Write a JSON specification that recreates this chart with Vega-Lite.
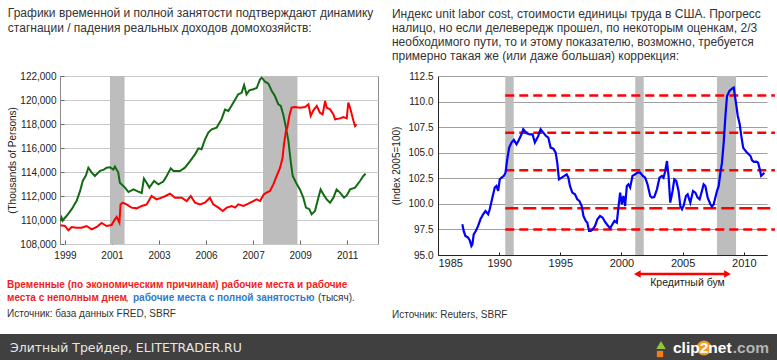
{
  "$schema": "https://vega.github.io/schema/vega-lite/v6.json",
  "padding": {"top": 6, "left": 0, "right": 0, "bottom": 0},
  "background": "#ffffff",
  "spacing": 14,
  "config": {
    "view": {"stroke": null},
    "font": "Liberation Sans",
    "axis": {"labelFont": "Liberation Sans", "titleFont": "Liberation Sans"},
    "title": {"font": "Liberation Sans"}
  },
  "datasets": {
    "employment": [
      {"year": 1998.97, "value": 109900, "series": "full"}, {"year": 1999.02, "value": 110200, "series": "full"}, {"year": 1999.07, "value": 109950, "series": "full"}, {"year": 1999.15, "value": 110150, "series": "full"}, {"year": 1999.24, "value": 110330, "series": "full"}, {"year": 1999.47, "value": 110900, "series": "full"}, {"year": 1999.69, "value": 111600, "series": "full"}, {"year": 1999.84, "value": 112400, "series": "full"}, {"year": 1999.96, "value": 113250, "series": "full"}, {"year": 2000.10, "value": 113700, "series": "full"}, {"year": 2000.21, "value": 114360, "series": "full"}, {"year": 2000.36, "value": 113950, "series": "full"}, {"year": 2000.50, "value": 113670, "series": "full"}, {"year": 2000.73, "value": 114100, "series": "full"}, {"year": 2000.90, "value": 114200, "series": "full"}, {"year": 2001.02, "value": 114360, "series": "full"}, {"year": 2001.17, "value": 114400, "series": "full"}, {"year": 2001.32, "value": 114200, "series": "full"}, {"year": 2001.39, "value": 114450, "series": "full"}, {"year": 2001.54, "value": 113950, "series": "full"}, {"year": 2001.61, "value": 113100, "series": "full"}, {"year": 2001.84, "value": 112700, "series": "full"}, {"year": 2001.99, "value": 112330, "series": "full"}, {"year": 2002.21, "value": 112550, "series": "full"}, {"year": 2002.43, "value": 112360, "series": "full"}, {"year": 2002.58, "value": 112250, "series": "full"}, {"year": 2002.68, "value": 113450, "series": "full"}, {"year": 2002.80, "value": 113100, "series": "full"}, {"year": 2002.92, "value": 112700, "series": "full"}, {"year": 2003.13, "value": 113250, "series": "full"}, {"year": 2003.32, "value": 112970, "series": "full"}, {"year": 2003.54, "value": 113200, "series": "full"}, {"year": 2003.69, "value": 113670, "series": "full"}, {"year": 2003.87, "value": 114300, "series": "full"}, {"year": 2003.99, "value": 114080, "series": "full"}, {"year": 2004.28, "value": 114080, "series": "full"}, {"year": 2004.50, "value": 114360, "series": "full"}, {"year": 2004.73, "value": 114900, "series": "full"}, {"year": 2004.95, "value": 115470, "series": "full"}, {"year": 2005.10, "value": 115970, "series": "full"}, {"year": 2005.24, "value": 115900, "series": "full"}, {"year": 2005.39, "value": 116700, "series": "full"}, {"year": 2005.54, "value": 117280, "series": "full"}, {"year": 2005.69, "value": 117550, "series": "full"}, {"year": 2005.91, "value": 117700, "series": "full"}, {"year": 2006.13, "value": 118400, "series": "full"}, {"year": 2006.28, "value": 119200, "series": "full"}, {"year": 2006.43, "value": 119080, "series": "full"}, {"year": 2006.65, "value": 119780, "series": "full"}, {"year": 2006.87, "value": 120470, "series": "full"}, {"year": 2007.02, "value": 120600, "series": "full"}, {"year": 2007.13, "value": 121250, "series": "full"}, {"year": 2007.24, "value": 120470, "series": "full"}, {"year": 2007.36, "value": 120800, "series": "full"}, {"year": 2007.54, "value": 120900, "series": "full"}, {"year": 2007.69, "value": 121000, "series": "full"}, {"year": 2007.84, "value": 121720, "series": "full"}, {"year": 2007.91, "value": 121860, "series": "full"}, {"year": 2008.06, "value": 121530, "series": "full"}, {"year": 2008.21, "value": 121360, "series": "full"}, {"year": 2008.36, "value": 120750, "series": "full"}, {"year": 2008.50, "value": 120330, "series": "full"}, {"year": 2008.65, "value": 119640, "series": "full"}, {"year": 2008.76, "value": 119500, "series": "full"}, {"year": 2008.87, "value": 118800, "series": "full"}, {"year": 2008.99, "value": 117700, "series": "full"}, {"year": 2009.10, "value": 116580, "series": "full"}, {"year": 2009.20, "value": 114900, "series": "full"}, {"year": 2009.29, "value": 113670, "series": "full"}, {"year": 2009.44, "value": 113100, "series": "full"}, {"year": 2009.61, "value": 112550, "series": "full"}, {"year": 2009.76, "value": 111860, "series": "full"}, {"year": 2009.88, "value": 111030, "series": "full"}, {"year": 2010.03, "value": 110900, "series": "full"}, {"year": 2010.13, "value": 110470, "series": "full"}, {"year": 2010.28, "value": 110750, "series": "full"}, {"year": 2010.43, "value": 111860, "series": "full"}, {"year": 2010.53, "value": 112550, "series": "full"}, {"year": 2010.65, "value": 112140, "series": "full"}, {"year": 2010.80, "value": 111720, "series": "full"}, {"year": 2010.95, "value": 111440, "series": "full"}, {"year": 2011.10, "value": 111860, "series": "full"}, {"year": 2011.24, "value": 112550, "series": "full"}, {"year": 2011.39, "value": 112280, "series": "full"}, {"year": 2011.57, "value": 111860, "series": "full"}, {"year": 2011.69, "value": 112050, "series": "full"}, {"year": 2011.84, "value": 112550, "series": "full"}, {"year": 2012.06, "value": 112700, "series": "full"}, {"year": 2012.28, "value": 113250, "series": "full"}, {"year": 2012.43, "value": 113670, "series": "full"}, {"year": 2012.53, "value": 113860, "series": "full"},
      {"year": 1998.97, "value": 109560, "series": "part"}, {"year": 1999.17, "value": 109500, "series": "part"}, {"year": 1999.32, "value": 109140, "series": "part"}, {"year": 1999.47, "value": 109420, "series": "part"}, {"year": 1999.69, "value": 109360, "series": "part"}, {"year": 1999.91, "value": 109360, "series": "part"}, {"year": 2000.13, "value": 109500, "series": "part"}, {"year": 2000.36, "value": 109220, "series": "part"}, {"year": 2000.58, "value": 109420, "series": "part"}, {"year": 2000.80, "value": 109750, "series": "part"}, {"year": 2001.02, "value": 109500, "series": "part"}, {"year": 2001.24, "value": 109580, "series": "part"}, {"year": 2001.39, "value": 110050, "series": "part"}, {"year": 2001.47, "value": 110250, "series": "part"}, {"year": 2001.59, "value": 109780, "series": "part"}, {"year": 2001.64, "value": 111300, "series": "part"}, {"year": 2001.73, "value": 111440, "series": "part"}, {"year": 2001.91, "value": 111300, "series": "part"}, {"year": 2002.13, "value": 111030, "series": "part"}, {"year": 2002.36, "value": 110970, "series": "part"}, {"year": 2002.58, "value": 111170, "series": "part"}, {"year": 2002.80, "value": 111300, "series": "part"}, {"year": 2003.02, "value": 112000, "series": "part"}, {"year": 2003.24, "value": 111720, "series": "part"}, {"year": 2003.47, "value": 111860, "series": "part"}, {"year": 2003.64, "value": 112000, "series": "part"}, {"year": 2003.84, "value": 112200, "series": "part"}, {"year": 2004.06, "value": 111860, "series": "part"}, {"year": 2004.36, "value": 111860, "series": "part"}, {"year": 2004.58, "value": 111580, "series": "part"}, {"year": 2004.76, "value": 112000, "series": "part"}, {"year": 2004.95, "value": 111440, "series": "part"}, {"year": 2005.17, "value": 111300, "series": "part"}, {"year": 2005.39, "value": 111440, "series": "part"}, {"year": 2005.61, "value": 111860, "series": "part"}, {"year": 2005.76, "value": 111300, "series": "part"}, {"year": 2005.99, "value": 111030, "series": "part"}, {"year": 2006.18, "value": 110750, "series": "part"}, {"year": 2006.36, "value": 111030, "series": "part"}, {"year": 2006.58, "value": 111170, "series": "part"}, {"year": 2006.73, "value": 111030, "series": "part"}, {"year": 2006.87, "value": 111300, "series": "part"}, {"year": 2007.10, "value": 111170, "series": "part"}, {"year": 2007.32, "value": 111360, "series": "part"}, {"year": 2007.54, "value": 111580, "series": "part"}, {"year": 2007.69, "value": 111720, "series": "part"}, {"year": 2007.84, "value": 111580, "series": "part"}, {"year": 2008.01, "value": 112140, "series": "part"}, {"year": 2008.13, "value": 112280, "series": "part"}, {"year": 2008.28, "value": 112420, "series": "part"}, {"year": 2008.43, "value": 112970, "series": "part"}, {"year": 2008.58, "value": 113670, "series": "part"}, {"year": 2008.73, "value": 114360, "series": "part"}, {"year": 2008.84, "value": 115190, "series": "part"}, {"year": 2008.90, "value": 116300, "series": "part"}, {"year": 2008.99, "value": 117420, "series": "part"}, {"year": 2009.05, "value": 117700, "series": "part"}, {"year": 2009.14, "value": 118670, "series": "part"}, {"year": 2009.24, "value": 119360, "series": "part"}, {"year": 2009.39, "value": 119420, "series": "part"}, {"year": 2009.61, "value": 119360, "series": "part"}, {"year": 2009.84, "value": 119420, "series": "part"}, {"year": 2009.99, "value": 119640, "series": "part"}, {"year": 2010.09, "value": 118670, "series": "part"}, {"year": 2010.21, "value": 119140, "series": "part"}, {"year": 2010.36, "value": 119500, "series": "part"}, {"year": 2010.50, "value": 118940, "series": "part"}, {"year": 2010.62, "value": 118800, "series": "part"}, {"year": 2010.73, "value": 119920, "series": "part"}, {"year": 2010.80, "value": 119360, "series": "part"}, {"year": 2010.95, "value": 119220, "series": "part"}, {"year": 2011.10, "value": 118800, "series": "part"}, {"year": 2011.17, "value": 118390, "series": "part"}, {"year": 2011.39, "value": 118470, "series": "part"}, {"year": 2011.54, "value": 118580, "series": "part"}, {"year": 2011.69, "value": 118470, "series": "part"}, {"year": 2011.76, "value": 119780, "series": "part"}, {"year": 2011.84, "value": 119360, "series": "part"}, {"year": 2011.99, "value": 118250, "series": "part"}, {"year": 2012.06, "value": 117830, "series": "part"}, {"year": 2012.13, "value": 117970, "series": "part"}
    ],
    "ulc": [
      {"year": 1986.99, "index": 98.00}, {"year": 1987.10, "index": 97.35}, {"year": 1987.24, "index": 96.86}, {"year": 1987.46, "index": 96.70}, {"year": 1987.60, "index": 96.43}, {"year": 1987.73, "index": 95.88}, {"year": 1987.81, "index": 96.04}, {"year": 1987.92, "index": 97.02}, {"year": 1988.09, "index": 97.35}, {"year": 1988.28, "index": 97.84}, {"year": 1988.47, "index": 98.49}, {"year": 1988.69, "index": 98.98}, {"year": 1988.88, "index": 99.30}, {"year": 1989.10, "index": 98.98}, {"year": 1989.23, "index": 99.47}, {"year": 1989.45, "index": 100.61}, {"year": 1989.64, "index": 101.59}, {"year": 1989.78, "index": 101.75}, {"year": 1989.92, "index": 101.26}, {"year": 1990.05, "index": 102.40}, {"year": 1990.19, "index": 102.56}, {"year": 1990.38, "index": 102.73}, {"year": 1990.52, "index": 103.05}, {"year": 1990.66, "index": 104.36}, {"year": 1990.82, "index": 105.50}, {"year": 1991.01, "index": 105.99}, {"year": 1991.20, "index": 106.25}, {"year": 1991.42, "index": 105.82}, {"year": 1991.61, "index": 106.25}, {"year": 1991.83, "index": 106.80}, {"year": 1991.97, "index": 107.29}, {"year": 1992.24, "index": 106.90}, {"year": 1992.51, "index": 106.80}, {"year": 1992.73, "index": 106.80}, {"year": 1992.92, "index": 105.99}, {"year": 1993.20, "index": 106.64}, {"year": 1993.39, "index": 107.29}, {"year": 1993.61, "index": 106.96}, {"year": 1993.83, "index": 106.64}, {"year": 1994.02, "index": 106.48}, {"year": 1994.21, "index": 105.50}, {"year": 1994.43, "index": 105.40}, {"year": 1994.62, "index": 105.01}, {"year": 1994.75, "index": 104.03}, {"year": 1994.89, "index": 102.40}, {"year": 1995.11, "index": 102.56}, {"year": 1995.33, "index": 102.73}, {"year": 1995.52, "index": 102.89}, {"year": 1995.66, "index": 102.56}, {"year": 1995.79, "index": 101.75}, {"year": 1995.98, "index": 101.10}, {"year": 1996.20, "index": 100.93}, {"year": 1996.39, "index": 100.44}, {"year": 1996.56, "index": 100.28}, {"year": 1996.75, "index": 99.79}, {"year": 1996.89, "index": 98.81}, {"year": 1997.08, "index": 98.33}, {"year": 1997.21, "index": 98.16}, {"year": 1997.35, "index": 97.35}, {"year": 1997.49, "index": 97.35}, {"year": 1997.65, "index": 97.51}, {"year": 1997.84, "index": 97.84}, {"year": 1998.03, "index": 98.49}, {"year": 1998.25, "index": 98.81}, {"year": 1998.47, "index": 98.65}, {"year": 1998.66, "index": 98.23}, {"year": 1998.85, "index": 97.93}, {"year": 1999.07, "index": 97.61}, {"year": 1999.26, "index": 98.00}, {"year": 1999.43, "index": 98.33}, {"year": 1999.62, "index": 98.16}, {"year": 1999.75, "index": 99.63}, {"year": 1999.89, "index": 101.10}, {"year": 2000.03, "index": 99.96}, {"year": 2000.16, "index": 100.77}, {"year": 2000.30, "index": 99.79}, {"year": 2000.44, "index": 101.75}, {"year": 2000.57, "index": 101.91}, {"year": 2000.71, "index": 101.59}, {"year": 2000.90, "index": 102.73}, {"year": 2001.12, "index": 102.89}, {"year": 2001.31, "index": 103.05}, {"year": 2001.53, "index": 103.05}, {"year": 2001.75, "index": 102.73}, {"year": 2001.94, "index": 102.56}, {"year": 2002.13, "index": 101.91}, {"year": 2002.35, "index": 100.77}, {"year": 2002.49, "index": 100.61}, {"year": 2002.68, "index": 100.67}, {"year": 2002.90, "index": 101.42}, {"year": 2003.11, "index": 102.56}, {"year": 2003.31, "index": 102.73}, {"year": 2003.44, "index": 102.56}, {"year": 2003.58, "index": 103.22}, {"year": 2003.72, "index": 104.19}, {"year": 2003.85, "index": 102.73}, {"year": 2003.99, "index": 100.12}, {"year": 2004.18, "index": 101.26}, {"year": 2004.32, "index": 102.40}, {"year": 2004.48, "index": 102.24}, {"year": 2004.67, "index": 101.26}, {"year": 2004.81, "index": 99.79}, {"year": 2004.95, "index": 99.47}, {"year": 2005.08, "index": 99.79}, {"year": 2005.27, "index": 100.77}, {"year": 2005.41, "index": 100.93}, {"year": 2005.63, "index": 100.12}, {"year": 2005.85, "index": 101.26}, {"year": 2006.04, "index": 101.10}, {"year": 2006.23, "index": 100.61}, {"year": 2006.39, "index": 100.44}, {"year": 2006.58, "index": 101.26}, {"year": 2006.72, "index": 101.91}, {"year": 2006.86, "index": 101.75}, {"year": 2007.05, "index": 100.61}, {"year": 2007.27, "index": 99.96}, {"year": 2007.40, "index": 99.73}, {"year": 2007.54, "index": 99.96}, {"year": 2007.81, "index": 101.26}, {"year": 2007.95, "index": 101.75}, {"year": 2008.09, "index": 103.05}, {"year": 2008.22, "index": 104.03}, {"year": 2008.36, "index": 105.99}, {"year": 2008.50, "index": 108.59}, {"year": 2008.63, "index": 110.55}, {"year": 2008.83, "index": 111.04}, {"year": 2009.04, "index": 111.27}, {"year": 2009.18, "index": 111.37}, {"year": 2009.26, "index": 110.71}, {"year": 2009.40, "index": 109.57}, {"year": 2009.51, "index": 108.59}, {"year": 2009.67, "index": 107.78}, {"year": 2009.78, "index": 106.80}, {"year": 2009.95, "index": 105.50}, {"year": 2010.05, "index": 105.33}, {"year": 2010.22, "index": 105.07}, {"year": 2010.41, "index": 104.85}, {"year": 2010.55, "index": 104.68}, {"year": 2010.68, "index": 104.26}, {"year": 2010.82, "index": 104.10}, {"year": 2011.04, "index": 104.13}, {"year": 2011.17, "index": 104.03}, {"year": 2011.31, "index": 103.38}, {"year": 2011.42, "index": 102.73}, {"year": 2011.56, "index": 102.89}, {"year": 2011.69, "index": 103.05}
    ],
    "levels": [
      {"level": 110.6, "from": 1990.5, "to": 2012.55, "kind": "short"},
      {"level": 106.95, "from": 1990.5, "to": 2012.55, "kind": "short"},
      {"level": 103.28, "from": 1990.5, "to": 2012.55, "kind": "short"},
      {"level": 99.56, "from": 1990.5, "to": 2012.55, "kind": "long"},
      {"level": 97.5, "from": 1990.5, "to": 2012.55, "kind": "short"}
    ]
  },
  "vconcat": [
    {
      "spacing": 0,
      "hconcat": [
        {"width": 7, "height": 1, "data": {"values": []}, "mark": "point"},
        {
          "spacing": 17,
          "title": {"text": "Источник: база данных FRED, SBRF", "orient": "bottom", "anchor": "start", "fontSize": 10, "fontWeight": "normal", "color": "#333333", "offset": 5},
          "vconcat": [
            {
              "width": 318,
              "height": 168,
              "view": {"stroke": "#8c8c8c"},
              "title": {"text": ["Графики временной и полной занятости подтверждают динамику", "стагнации / падения реальных доходов домохозяйств:"], "anchor": "start", "fontSize": 12, "fontWeight": "normal", "color": "#333333", "lineHeight": 14.5, "offset": 36.5},
              "layer": [
                {
                  "data": {"values": [{"start": 2001.17, "end": 2001.82}, {"start": 2007.97, "end": 2009.5}]},
                  "mark": {"type": "rect", "color": "#bdbdbd"},
                  "encoding": {
                    "x": {"field": "start", "type": "quantitative", "scale": {"domain": [1998.95, 2013.08], "nice": false, "zero": false},
                      "axis": {"values": [1999.17, 2001.26, 2003.35, 2005.44, 2007.53, 2009.62, 2011.71], "labelExpr": "datum.value < 2005 ? format(floor(datum.value), 'd') : (datum.value < 2006 ? '2006' : format(floor(datum.value), 'd'))", "title": null, "grid": false, "domain": false, "tickSize": -4, "tickColor": "#666666", "labelPadding": 10, "labelFontSize": 10, "labelColor": "#222222", "labelOverlap": false}},
                    "x2": {"field": "end"}
                  }
                },
                {
                  "data": {"name": "employment"},
                  "mark": {"type": "line", "strokeWidth": 2, "clip": true},
                  "encoding": {
                    "x": {"field": "year", "type": "quantitative", "title": null},
                    "y": {"field": "value", "type": "quantitative", "scale": {"domain": [108000, 122000], "nice": false, "zero": false},
                      "axis": {"values": [108000, 110000, 112000, 114000, 116000, 118000, 120000, 122000], "format": ",d", "title": "(Thousands of Persons)", "titleFontSize": 10, "titleFontWeight": "normal", "titleColor": "#222222", "titlePadding": 2, "labelFontSize": 10, "labelColor": "#222222", "labelPadding": 8, "labelOverlap": false, "grid": true, "gridColor": "#c8c8c8", "domain": false, "tickSize": -4, "tickColor": "#666666"}},
                    "color": {"field": "series", "type": "nominal", "scale": {"domain": ["part", "full"], "range": ["#ff0000", "#126b12"]}, "legend": null}
                  }
                }
              ]
            },
            {
              "width": 318,
              "height": 26,
              "data": {"values": [{"l1": "Временные (по экономическим причинам) рабочие места и рабочие", "l2a": "места с неполным днем", "l2b": ",", "l2c": "рабочие места с полной занятостью", "l2d": "(тысяч)."}]},
              "layer": [
                {"mark": {"type": "text", "align": "left", "baseline": "middle", "fontSize": 10, "fontWeight": "bold", "color": "#f01e1e", "dy": -6.5, "dx": -53}, "encoding": {"x": {"value": 0}, "text": {"field": "l1"}}},
                {"mark": {"type": "text", "align": "left", "baseline": "middle", "fontSize": 10, "fontWeight": "bold", "color": "#f01e1e", "dy": 6.5, "dx": -53}, "encoding": {"x": {"value": 0}, "text": {"field": "l2a"}}},
                {"mark": {"type": "text", "align": "left", "baseline": "middle", "fontSize": 10, "color": "#333333", "dy": 6.5, "dx": 65.5}, "encoding": {"x": {"value": 0}, "text": {"field": "l2b"}}},
                {"mark": {"type": "text", "align": "left", "baseline": "middle", "fontSize": 10, "fontWeight": "bold", "color": "#2f7bc9", "dy": 6.5, "dx": 73}, "encoding": {"x": {"value": 0}, "text": {"field": "l2c"}}},
                {"mark": {"type": "text", "align": "left", "baseline": "middle", "fontSize": 10, "color": "#333333", "dy": 6.5, "dx": 258}, "encoding": {"x": {"value": 0}, "text": {"field": "l2d"}}}
              ]
            }
          ]
        },
        {"width": 12, "height": 1, "data": {"values": []}, "mark": "point"},
        {
          "spacing": 1,
          "title": {"text": "Источник: Reuters, SBRF", "orient": "bottom", "anchor": "start", "fontSize": 10, "fontWeight": "normal", "color": "#333333", "offset": 21.5},
          "vconcat": [
            {
              "width": 329,
              "height": 179,
              "title": {"text": ["Индекс unit labor cost, стоимости единицы труда в США. Прогресс", "налицо, но если делевередж прошел, по некоторым оценкам, 2/3", "необходимого пути, то и этому показателю, возможно, требуется", "примерно такая же (или даже большая) коррекция:"], "anchor": "start", "fontSize": 12, "fontWeight": "normal", "color": "#333333", "lineHeight": 14, "offset": 8.5},
              "layer": [
                {
                  "data": {"values": [{"start": 1990.5, "end": 1991.19}, {"start": 2001.13, "end": 2001.82}, {"start": 2007.81, "end": 2009.37}]},
                  "mark": {"type": "rect", "color": "#bdbdbd"},
                  "encoding": {
                    "x": {"field": "start", "type": "quantitative", "scale": {"domain": [1985, 2011.9], "nice": false, "zero": false},
                      "axis": {"values": [1985, 1990, 1995, 2000, 2005, 2010], "format": "d", "title": null, "grid": false, "domain": true, "domainColor": "#222222", "tickSize": -3, "tickColor": "#222222", "labelPadding": 5, "labelFontSize": 11, "labelColor": "#222222", "labelOverlap": false}},
                    "x2": {"field": "end"}
                  }
                },
                {
                  "data": {"name": "levels"},
                  "mark": {"type": "rule", "color": "#ff0000", "strokeWidth": 2.5, "clip": false},
                  "encoding": {
                    "x": {"field": "from", "type": "quantitative", "title": null},
                    "x2": {"field": "to"},
                    "y": {"field": "level", "type": "quantitative", "scale": {"domain": [95, 112.5], "nice": false, "zero": false},
                      "axis": {"values": [95, 97.5, 100, 102.5, 105, 107.5, 110, 112.5], "format": ".1f", "title": "(Index 2005=100)", "titleFontSize": 10, "titleFontWeight": "normal", "titleColor": "#222222", "titlePadding": 6, "labelFontSize": 10, "labelColor": "#222222", "labelPadding": 5, "labelOverlap": false, "grid": true, "gridColor": "#a0a0a0", "domain": true, "domainColor": "#222222", "ticks": false}},
                    "strokeDash": {"field": "kind", "type": "nominal", "scale": {"domain": ["short", "long"], "range": [[9, 5], [13, 5]]}, "legend": null}
                  }
                },
                {
                  "data": {"name": "ulc"},
                  "mark": {"type": "line", "color": "#0000ff", "strokeWidth": 2.2},
                  "encoding": {
                    "x": {"field": "year", "type": "quantitative", "title": null},
                    "y": {"field": "index", "type": "quantitative",
                      "axis": {"values": [95, 97.5, 100, 102.5, 105, 107.5, 110, 112.5], "format": ".1f", "title": "(Index 2005=100)", "titleFontSize": 10, "titleFontWeight": "normal", "titleColor": "#222222", "titlePadding": 6, "labelFontSize": 10, "labelColor": "#222222", "labelPadding": 5, "labelOverlap": false, "grid": true, "gridColor": "#a0a0a0", "domain": true, "domainColor": "#222222", "ticks": false}}
                  }
                }
              ]
            },
            {
              "width": 329,
              "height": 10,
              "data": {"values": [{"from": 2001.3, "to": 2008.67, "mid": 2005.4, "label": "Кредитный бум"}]},
              "layer": [
                {"mark": {"type": "rule", "color": "#ff0000", "strokeWidth": 2.5}, "encoding": {"x": {"field": "from", "type": "quantitative", "scale": {"domain": [1985, 2011.9], "nice": false, "zero": false}, "axis": null}, "x2": {"field": "to"}}},
                {"mark": {"type": "point", "shape": "triangle-left", "filled": true, "color": "#ff0000", "opacity": 1, "size": 60}, "encoding": {"x": {"field": "from", "type": "quantitative"}}},
                {"mark": {"type": "point", "shape": "triangle-right", "filled": true, "color": "#ff0000", "opacity": 1, "size": 60}, "encoding": {"x": {"field": "to", "type": "quantitative"}}},
                {"mark": {"type": "text", "fontSize": 10.5, "color": "#222222", "baseline": "middle", "dy": 9}, "encoding": {"x": {"field": "mid", "type": "quantitative"}, "text": {"field": "label"}}}
              ]
            }
          ]
        }
      ]
    },
    {
      "width": 777,
      "height": 28,
      "view": {"fill": "#404040", "stroke": null},
      "data": {"values": [{"site": "Элитный Трейдер, ELITETRADER.RU", "brand": "clip2net", "tld": ".com"}]},
      "layer": [
        {"mark": {"type": "text", "align": "left", "baseline": "middle", "font": "DejaVu Sans", "fontSize": 12.5, "color": "#e6e6e6"}, "encoding": {"x": {"value": 10}, "text": {"field": "site"}}},
        {"mark": {"type": "point", "shape": "triangle-up", "filled": true, "color": "#8cc63f", "opacity": 1, "size": 90}, "encoding": {"x": {"value": 661}, "y": {"value": 11}}},
        {"mark": {"type": "point", "shape": "square", "filled": true, "color": "#f07d1a", "opacity": 1, "size": 40}, "encoding": {"x": {"value": 660}, "y": {"value": 20}}},
        {"mark": {"type": "point", "shape": "circle", "filled": true, "color": "#f39a1e", "opacity": 1, "size": 220}, "encoding": {"x": {"value": 704}, "y": {"value": 14}}},
        {"mark": {"type": "text", "align": "left", "baseline": "middle", "fontWeight": "bold", "fontSize": 15.5, "color": "#ffffff"}, "encoding": {"x": {"value": 673}, "text": {"field": "brand"}}},
        {"mark": {"type": "text", "align": "right", "baseline": "middle", "fontWeight": "bold", "fontSize": 15.5, "color": "#b4b4b4"}, "encoding": {"x": {"value": 769}, "text": {"field": "tld"}}}
      ]
    }
  ]
}
